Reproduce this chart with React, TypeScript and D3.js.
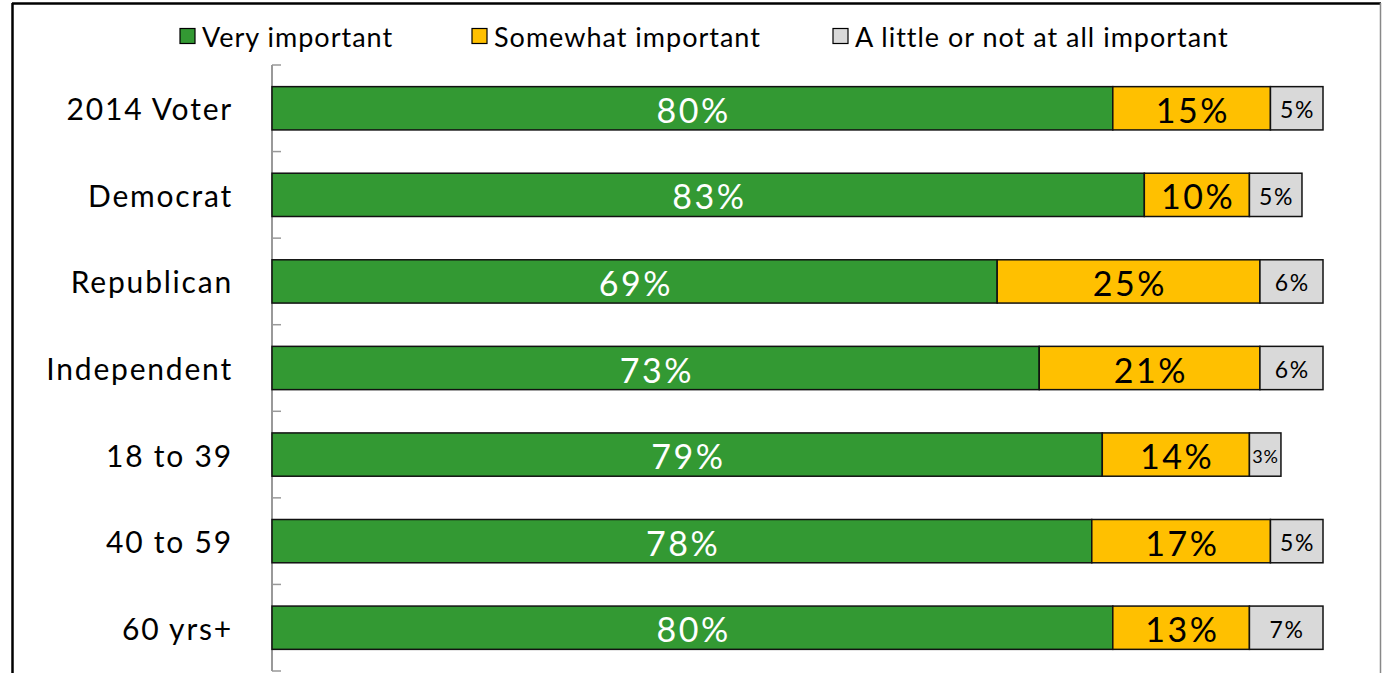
import React from "react";
import * as d3 from "d3";

const categories = ["2014 Voter", "Democrat", "Republican", "Independent", "18 to 39", "40 to 59", "60 yrs+"];
const veryImportant = [80, 83, 69, 73, 79, 78, 80];
const somewhatImportant = [15, 10, 25, 21, 14, 17, 13];
const littleOrNot = [5, 5, 6, 6, 3, 5, 7];
const seriesNames = ["Very important", "Somewhat important", "A little or not at all important"];
const seriesColors = ["#339933", "#FFC000", "#D9D9D9"];

const W = 1382;
const H = 673;

export default function App() {
  const x = d3.scaleLinear().domain([0, 100]).range([272, 1323]);
  const y = d3.scaleBand<string>().domain(categories).range([65, 671]).paddingInner(0.5).paddingOuter(0.25);
  const series = [veryImportant, somewhatImportant, littleOrNot];
  const font = "Lato, 'Open Sans', sans-serif";
  const labelColors = ["#ffffff", "#000000", "#000000"];
  const labelSizes = [34, 34, 23];
  const labelSpacing = [2.5, 2.5, 1.5];
  const legendX = [180, 472, 833];
  const ticks = d3.range(categories.length + 1).map((i) => 65 + (i * (671 - 65)) / categories.length);

  return (
    <svg width={W} height={H} style={{ position: "absolute", left: 0, top: 0, background: "#fff" }} fontFamily={font}>
      {/* frame */}
      <line x1={12} y1={3.5} x2={1381} y2={3.5} stroke="#000" strokeWidth={2.5} />
      <line x1={12.5} y1={3} x2={12.5} y2={H} stroke="#000" strokeWidth={2.5} />
      <line x1={1380.5} y1={3} x2={1380.5} y2={H} stroke="#888" strokeWidth={1.5} />

      {/* legend */}
      {seriesNames.map((name, i) => (
        <g key={name}>
          <rect x={legendX[i]} y={28.5} width={15} height={15} fill={seriesColors[i]} stroke="#000" strokeWidth={1.2} />
          <text x={legendX[i] + 22} y={36} dominantBaseline="central" fontSize={27} letterSpacing={1} fill="#000">
            {name}
          </text>
        </g>
      ))}

      {/* axis */}
      <line x1={272} y1={65} x2={272} y2={671} stroke="#999" strokeWidth={2} />
      {ticks.map((t, i) => (
        <line key={i} x1={272} y1={t} x2={281} y2={t} stroke="#999" strokeWidth={1.5} />
      ))}

      {/* bars */}
      {categories.map((cat, ci) => {
        let cum = 0;
        const by = y(cat)!;
        const bh = y.bandwidth();
        return (
          <g key={cat}>
            <text x={233} y={by + bh / 2} textAnchor="end" dominantBaseline="central" fontSize={30} letterSpacing={1.8} fill="#000">
              {cat}
            </text>
            {series.map((s, si) => {
              const v = s[ci];
              const x0 = x(cum);
              cum += v;
              const x1 = x(cum);
              const small = si === 2 && v < 4;
              const fs = small ? 18 : labelSizes[si];
              const ls = small ? 0.8 : labelSpacing[si];
              return (
                <g key={si}>
                  <rect x={x0} y={by} width={x1 - x0} height={bh} fill={seriesColors[si]} stroke="#111" strokeWidth={1.5} />
                  <text
                    x={(x0 + x1) / 2 + ls / 2}
                    y={by + bh / 2 + 1}
                    textAnchor="middle"
                    dominantBaseline="central"
                    fontSize={fs}
                    letterSpacing={ls}
                    fill={labelColors[si]}
                  >
                    {v}%
                  </text>
                </g>
              );
            })}
          </g>
        );
      })}
    </svg>
  );
}
